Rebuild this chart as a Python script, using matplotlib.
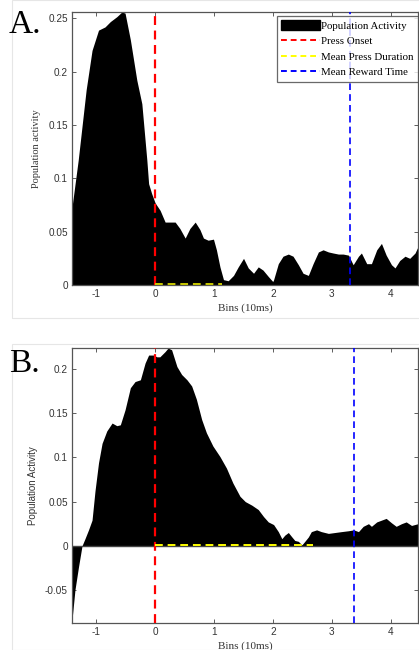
import matplotlib
matplotlib.use("Agg")
import matplotlib.pyplot as plt
from matplotlib.patches import Patch, Rectangle
from matplotlib.lines import Line2D

# ---------------- data ----------------
xa = [-1.41, -1.305, -1.17, -1.07, -0.96, -0.85, -0.76, -0.65, -0.565, -0.51, -0.42, -0.31,
      -0.225, -0.14, -0.11, -0.06, 0.0, 0.085, 0.17, 0.25, 0.34, 0.42, 0.51, 0.59, 0.68, 0.76, 0.82,
      0.90, 0.99, 1.04, 1.10, 1.16, 1.24, 1.33, 1.41, 1.50, 1.58, 1.67, 1.75, 1.83, 1.92, 2.0, 2.09,
      2.17, 2.26, 2.34, 2.43, 2.51, 2.60, 2.68, 2.77, 2.85, 2.94, 3.02, 3.11, 3.19, 3.28, 3.36, 3.45,
      3.50, 3.59, 3.67, 3.76, 3.84, 3.92, 4.01, 4.07, 4.15, 4.24, 4.32, 4.41, 4.46]
ya = [0.073, 0.117, 0.183, 0.220, 0.239, 0.242, 0.247, 0.2516, 0.256, 0.255, 0.230, 0.192,
      0.170, 0.117, 0.095, 0.086, 0.077, 0.070, 0.059, 0.059, 0.059, 0.053, 0.044, 0.053, 0.059, 0.052,
      0.044, 0.042, 0.043, 0.033, 0.017, 0.005, 0.004, 0.009, 0.017, 0.025, 0.016, 0.011, 0.017, 0.014,
      0.008, 0.003, 0.020, 0.027, 0.029, 0.027, 0.019, 0.011, 0.009, 0.020, 0.031, 0.033, 0.031, 0.030,
      0.029, 0.029, 0.028, 0.019, 0.027, 0.030, 0.020, 0.020, 0.033, 0.039, 0.028, 0.019, 0.016, 0.023,
      0.027, 0.025, 0.030, 0.036]

xb = [-1.41, -1.36, -1.30, -1.24, -1.19, -1.13, -1.07, -1.02, -0.96, -0.90, -0.82, -0.73, -0.65, -0.59,
      -0.51, -0.42, -0.34, -0.25, -0.17, -0.11, -0.03, 0.03, 0.08, 0.17, 0.22, 0.28, 0.37, 0.45, 0.54,
      0.62, 0.70, 0.79, 0.87, 0.98, 1.10, 1.21, 1.32, 1.44, 1.53, 1.64, 1.75, 1.84, 1.92, 2.01, 2.09,
      2.15, 2.20, 2.26, 2.32, 2.37, 2.43, 2.49, 2.54, 2.60, 2.65, 2.74, 2.82, 2.94, 3.05, 3.16, 3.28,
      3.37, 3.45, 3.53, 3.62, 3.67, 3.76, 3.84, 3.92, 4.01, 4.09, 4.18, 4.26, 4.35, 4.46]
yb = [-0.084, -0.050, -0.024, 0.0, 0.008, 0.018, 0.029, 0.062, 0.094, 0.116, 0.130, 0.139, 0.136, 0.137,
      0.154, 0.179, 0.186, 0.188, 0.207, 0.216, 0.216, 0.214, 0.214, 0.220, 0.224, 0.222, 0.203, 0.194,
      0.188, 0.181, 0.166, 0.143, 0.128, 0.113, 0.101, 0.088, 0.071, 0.056, 0.050, 0.046, 0.041, 0.033,
      0.027, 0.024, 0.016, 0.008, 0.012, 0.015, 0.010, 0.006, 0.005, 0.001, 0.005, 0.010, 0.016, 0.018,
      0.016, 0.014, 0.015, 0.016, 0.017, 0.018, 0.016, 0.022, 0.025, 0.022, 0.027, 0.029, 0.031, 0.026,
      0.022, 0.025, 0.027, 0.023, 0.025]

press_onset = 0.0
press_dur_a = 1.14
press_dur_b = 2.68
reward_a = 3.30
reward_b = 3.37

xticks = [-1, 0, 1, 2, 3, 4]
yticks_a = [0, 0.05, 0.1, 0.15, 0.2, 0.25]
yticks_b = [-0.05, 0, 0.05, 0.1, 0.15, 0.2]

SERIF = ["Liberation Serif", "DejaVu Serif"]
SANS = ["Liberation Sans", "DejaVu Sans"]

fig = plt.figure(figsize=(4.19, 6.5), dpi=100)

# faint panel frames
fig.patches.append(Rectangle((12 / 419, 1 - 318 / 650), 1.0, 318 / 650, transform=fig.transFigure,
                             fill=False, edgecolor="#e6e6e6", lw=0.8))
fig.patches.append(Rectangle((12 / 419, 0.0), 1.0, 1 - 344 / 650, transform=fig.transFigure,
                             fill=False, edgecolor="#e6e6e6", lw=0.8))

W = 419.0
H = 650.0
axA = fig.add_axes([72 / W, 1 - 285 / H, (418 - 72) / W, (285 - 12) / H])
axB = fig.add_axes([72 / W, 1 - 623 / H, (418 - 72) / W, (623 - 348) / H])


def style(ax, yticks, ylim, ylab, ylab_family, ylab_size):
    ax.set_xlim(-1.41, 4.46)
    ax.set_ylim(*ylim)
    ax.set_xticks(xticks)
    ax.set_xticklabels([str(t) for t in xticks], family=SANS, fontsize=7.2, color="#333333")
    ax.set_yticks(yticks)
    ax.set_yticklabels([("%g" % t) for t in yticks], family=SANS, fontsize=7.2, color="#333333")
    ax.tick_params(direction="in", top=True, right=True, length=3, width=0.6, color="#444444", pad=3)
    for s in ax.spines.values():
        s.set_color("#555555")
        s.set_linewidth(0.9)
    ax.set_xlabel("Bins (10ms)", family=SERIF, fontsize=8, color="#333333", labelpad=3)
    ax.set_ylabel(ylab, family=ylab_family, fontsize=ylab_size, color="#333333", labelpad=5)


# Panel A
axA.fill_between(xa, 0, ya, color="black", lw=0, zorder=2)
axA.plot([press_onset, press_onset], [0, 0.256], color="red", lw=1.6, dashes=(4, 2.5), zorder=3)
axA.plot([press_onset, press_dur_a], [0.0008, 0.0008], color="#c8c800", lw=1.4, dashes=(4, 2.5), zorder=3)
axA.plot([reward_a, reward_a], [0, 0.256], color="blue", lw=1.2, dashes=(4, 2.5), zorder=3)
style(axA, yticks_a, (0, 0.256), "Population activity", SERIF, 7.5)

handles = [Patch(facecolor="black", edgecolor="black"),
           Line2D([], [], color="red", lw=1.4, dashes=(3, 2)),
           Line2D([], [], color="yellow", lw=1.4, dashes=(3, 2)),
           Line2D([], [], color="blue", lw=1.4, dashes=(3, 2))]
labels = ["Population Activity", "Press Onset", "Mean Press Duration", "Mean Reward Time"]
leg = axA.legend(handles, labels, loc="upper right", bbox_to_anchor=(1.0, 0.985),
                 prop={"family": SERIF, "size": 7.8}, frameon=True, fancybox=False,
                 handlelength=3.6, handleheight=1.0, handletextpad=0.1, borderpad=0.4,
                 labelspacing=0.45, borderaxespad=0.0)
leg.get_frame().set_edgecolor("#444444")
leg.get_frame().set_linewidth(0.9)
leg.set_zorder(5)

# Panel B
axB.fill_between(xb, 0, yb, color="black", lw=0, zorder=2)
axB.axhline(0, color="#444444", lw=1.0, zorder=2.5)
axB.plot([press_onset, press_onset], [-0.0875, 0.224], color="red", lw=1.6, dashes=(4, 2.5), zorder=3)
axB.plot([press_onset, press_dur_b], [0.0008, 0.0008], color="yellow", lw=1.4, dashes=(4, 2.5), zorder=3)
axB.plot([reward_b, reward_b], [-0.0875, 0.224], color="blue", lw=1.2, dashes=(4, 2.5), zorder=3)
style(axB, yticks_b, (-0.0875, 0.224), "Population Activity", SANS, 7)

fig.text(9 / W, 1 - 25 / H, "A.", family=SERIF, fontsize=24, va="center", ha="left")
fig.text(9 / W, 1 - 364 / H, "B.", family=SERIF, fontsize=24, va="center", ha="left")

fig.savefig("out.png", dpi=100)
